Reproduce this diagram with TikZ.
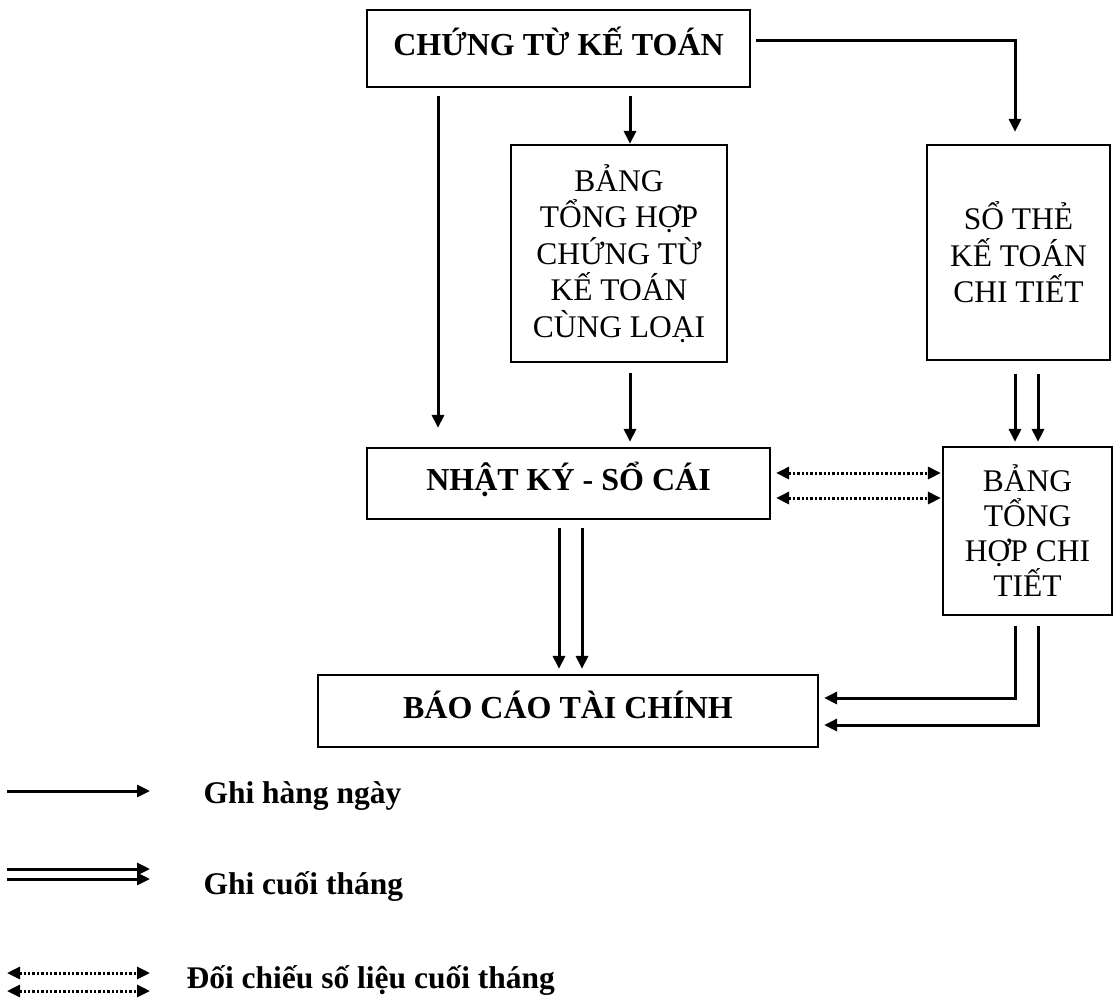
\documentclass[tikz,border=0pt]{standalone}
\usepackage{fontspec}
\setmainfont{Liberation Serif}
\usetikzlibrary{arrows.meta,positioning,calc}
\tikzset{
  box/.style={draw,line width=2.2pt,inner sep=0pt,align=center,font=\fontsize{31.5}{36.5}\selectfont},
  boldbox/.style={box,font=\fontsize{32}{36.5}\selectfont\bfseries,text height=22pt,text depth=8pt},
  daily/.style={-{Triangle[length=13pt,width=12pt]},line width=3pt},
  monthly/.style={-{Triangle[length=13pt,width=12pt]},line width=3pt},
  check/.style={{Triangle[length=13pt,width=12pt]}-{Triangle[length=13pt,width=12pt]},line width=3pt,dash pattern=on 2.4pt off 2pt},
  legendtext/.style={anchor=base west,font=\fontsize{31.5}{36.5}\selectfont\bfseries}
}
\begin{document}
\begin{tikzpicture}[x=1pt,y=-1pt]
  \useasboundingbox (0,0) rectangle (1113,999);

  \node[boldbox,minimum width=383pt,minimum height=77pt] (ctkt) at (558.5,48.5) {CHỨNG TỪ KẾ TOÁN};
  \node[box,minimum width=216pt,minimum height=217pt] (bthct) at (619,253.5) {BẢNG\\TỔNG HỢP\\CHỨNG TỪ\\KẾ TOÁN\\CÙNG LOẠI};
  \node[box,minimum width=183pt,minimum height=215pt] (sokt) at (1018.5,252.5) {SỔ THẺ\\KẾ TOÁN\\CHI TIẾT};
  \node[boldbox,minimum width=403pt,minimum height=71pt] (nkso) at (568.5,483.5) {NHẬT KÝ - SỔ CÁI};
  \node[box,minimum width=169pt,minimum height=168pt,font=\fontsize{31.5}{35}\selectfont] (bthchi) at (1027.5,531) {BẢNG\\TỔNG\\HỢP CHI\\TIẾT};
  \node[boldbox,minimum width=500pt,minimum height=72pt] (bctc) at (568,711) {BÁO CÁO TÀI CHÍNH};

  \coordinate (colA) at (438,0);
  \coordinate (colB) at (630,0);
  \coordinate (colC) at (1015,40);
  \coordinate (colD) at (1038,0);
  \coordinate (colE) at (559,0);
  \coordinate (colF) at (582,0);
  \coordinate (rowA) at (0,473);
  \coordinate (rowB) at (0,498);
  \coordinate (rowC) at (0,698);
  \coordinate (rowD) at (0,725);

  \draw[daily,shorten <=8pt,shorten >=19pt] (ctkt.south -| colA) -- (nkso.north -| colA);
  \draw[daily,shorten <=8pt] (ctkt.south -| colB) -- (bthct.north -| colB);
  \draw[daily,shorten <=10pt,shorten >=5pt] (bthct.south -| colB) -- (nkso.north -| colB);
  \draw[daily,shorten <=5pt,shorten >=12pt] (ctkt.east |- colC) -| (sokt.north -| colC);

  \foreach \c in {colC,colD}{
    \draw[monthly,shorten <=13pt,shorten >=4pt] (sokt.south -| \c) -- (bthchi.north -| \c);
  }
  \foreach \c in {colE,colF}{
    \draw[monthly,shorten <=8pt,shorten >=5pt] (nkso.south -| \c) -- (bctc.north -| \c);
  }
  \draw[monthly,shorten <=10pt,shorten >=5pt] (bthchi.south -| colC) |- (bctc.east |- rowC);
  \draw[monthly,shorten <=10pt,shorten >=5pt] (bthchi.south -| colD) |- (bctc.east |- rowD);

  \foreach \r in {rowA,rowB}{
    \draw[check,shorten <=5pt,shorten >=1pt] (nkso.east |- \r) -- (bthchi.west |- \r);
  }

  \coordinate (lgA1) at (7,791);
  \coordinate (lgA2) at (150,791);
  \coordinate (lgB1) at (7,869);
  \coordinate (lgB2) at (150,869);
  \coordinate (lgC1) at (7,879);
  \coordinate (lgC2) at (150,879);
  \coordinate (lgD1) at (7,973);
  \coordinate (lgD2) at (150,973);
  \coordinate (lgE1) at (7,991);
  \coordinate (lgE2) at (150,991);

  \draw[daily] (lgA1) -- (lgA2);
  \draw[monthly] (lgB1) -- (lgB2);
  \draw[monthly] (lgC1) -- (lgC2);
  \draw[check] (lgD1) -- (lgD2);
  \draw[check] (lgE1) -- (lgE2);

  \node[legendtext] (lgdaily) at (200,803) {Ghi hàng ngày};
  \node[legendtext] (lgmonth) at (200,894) {Ghi cuối tháng};
  \node[legendtext] (lgcheck) at (183,988) {Đối chiếu số liệu cuối tháng};

\end{tikzpicture}
\end{document}
